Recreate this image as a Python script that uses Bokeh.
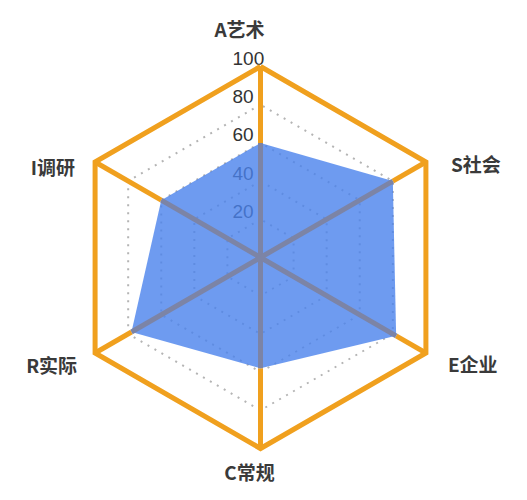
import numpy as np
from bokeh.plotting import figure
from bokeh.models import ColumnDataSource
from bokeh.core.properties import value
from bokeh.embed import file_html
from bokeh.resources import INLINE

# ---- data ----
categories = ["A艺术", "I调研", "R实际", "C常规", "E企业", "S社会"]
scores = [60, 60, 78, 58, 82, 80]
max_value = 100
grid_levels = [20, 40, 60, 80]
tick_labels = ["20", "40", "60", "80", "100"]
tick_values = [20, 40, 60, 80, 100]

# ---- layout ----
W, H = 511, 490
scale = 1.91            # pixels per value unit
cx, cy = 260, 257       # center in figure pixels
x_range = (-cx / scale, (W - cx) / scale)
y_range = (-(H - cy) / scale, cy / scale)

p = figure(width=W, height=H, x_range=x_range, y_range=y_range,
           output_backend="svg", toolbar_location=None, min_border=0,
           match_aspect=False)
p.axis.visible = False
p.grid.visible = False
p.outline_line_color = None
p.background_fill_color = "white"

n = len(categories)
angles = np.pi / 2 + np.arange(n) * 2 * np.pi / n  # counter-clockwise from top
cos_a, sin_a = np.cos(angles), np.sin(angles)

ORANGE = "#F0A01E"
GRAY_SPOKE = "#7C84A6"

# dotted grid
gx = [list(np.append(lv * cos_a, lv * cos_a[0])) for lv in grid_levels]
gy = [list(np.append(lv * sin_a, lv * sin_a[0])) for lv in grid_levels]
p.multi_line(gx, gy, line_color="#B4B4B4", line_width=2, line_dash="2 6")

# tick labels
p.text(x=[0] * len(tick_values), y=tick_values, text=tick_labels,
       x_offset=-28, y_offset=-8, text_align="left", text_baseline="middle",
       text_font=value("Liberation Sans"), text_font_size="19px",
       text_color="#333333")

# filled area
vals = np.array(scores, dtype=float)
p.patch(list(vals * cos_a), list(vals * sin_a), fill_color="#4A82EC",
        fill_alpha=0.8, line_color=None)

# spokes: orange beyond the value, gray within
p.segment(x0=list(vals * cos_a), y0=list(vals * sin_a),
          x1=list(max_value * cos_a), y1=list(max_value * sin_a),
          line_color=ORANGE, line_width=5)
p.segment(x0=[0] * n, y0=[0] * n, x1=list(vals * cos_a), y1=list(vals * sin_a),
          line_color=GRAY_SPOKE, line_width=5)

# outer hexagon
p.line(list(np.append(max_value * cos_a, max_value * cos_a[0])),
       list(np.append(max_value * sin_a, max_value * sin_a[0])),
       line_color=ORANGE, line_width=5, line_join="miter")

# category labels
x_offs = [-21, -20, -18, -11, 22, 25]
y_offs = [-38, 4, 11, 23, 10, 1]
aligns = ["center", "right", "right", "center", "left", "left"]
src = ColumnDataSource(dict(x=list(max_value * cos_a), y=list(max_value * sin_a),
                            t=categories, xo=x_offs, yo=y_offs, al=aligns))
p.text(x="x", y="y", text="t", x_offset="xo", y_offset="yo", text_align="al",
       text_baseline="middle", source=src,
       text_font=value("Noto Sans CJK SC"), text_font_size="19px",
       text_font_style="bold", text_color="#3A3A3A")

open("out.html", "w").write(file_html(p, INLINE))
